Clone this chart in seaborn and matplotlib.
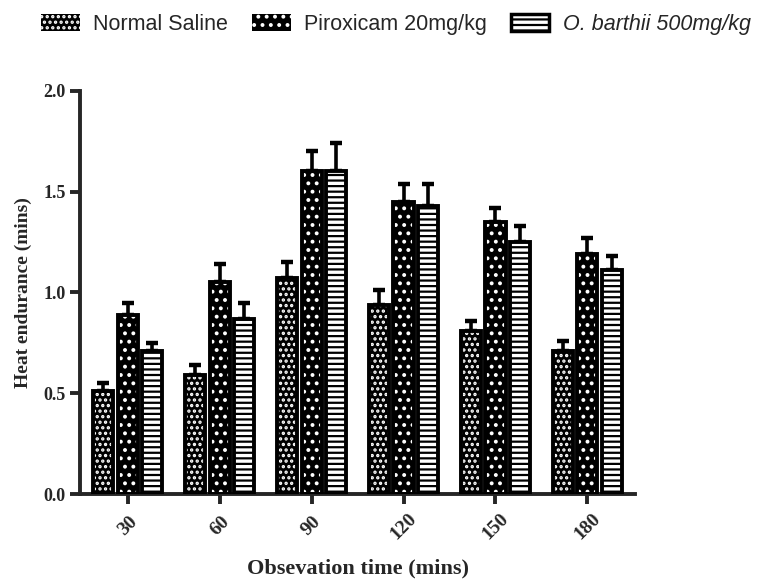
import seaborn as sns
import matplotlib.pyplot as plt
import pandas as pd
from matplotlib.patches import Rectangle, Patch

# Dados (média e erro padrão)
tempos = ["30", "60", "90", "120", "150", "180"]
grupos = ["Normal Saline", "Piroxicam 20mg/kg", "O. barthii 500mg/kg"]
salina = [0.51, 0.59, 1.07, 0.94, 0.81, 0.71]
salina_ep = [0.04, 0.05, 0.08, 0.07, 0.05, 0.05]
piroxicam = [0.89, 1.05, 1.60, 1.45, 1.35, 1.19]
piroxicam_ep = [0.06, 0.09, 0.10, 0.09, 0.07, 0.08]
barthii = [0.71, 0.87, 1.60, 1.43, 1.25, 1.11]
barthii_ep = [0.04, 0.08, 0.14, 0.11, 0.08, 0.07]

df = pd.DataFrame({
    "tempo": tempos * 3,
    "grupo": [g for g in grupos for _ in tempos],
    "valor": salina + piroxicam + barthii,
})
erros = [salina_ep, piroxicam_ep, barthii_ep]

sns.set_style("ticks")
plt.rcParams["hatch.linewidth"] = 1.6
serif = ["Liberation Serif", "DejaVu Serif"]

fig = plt.figure(figsize=(7.69, 5.82), dpi=100)
ax = fig.add_axes([0.104, 0.151, 0.722, 0.693])

sns.barplot(data=df, x="tempo", y="valor", hue="grupo", order=tempos,
            hue_order=grupos, errorbar=None, width=0.8, legend=False, ax=ax)

estilos = [("black", "white", "..."), ("black", "white", ".."), ("white", "black", "---")]
lw = 2.8
for cont, (fc, hc, hatch), ep in zip(ax.containers, estilos, erros):
    xs, hs = [], []
    for p in cont.patches:
        # estreita um pouco cada barra para deixar um espaço entre elas
        cx = p.get_x() + p.get_width() / 2
        w = p.get_width() * 0.82
        p.set_x(cx - w / 2)
        p.set_width(w)
        p.set_facecolor(fc)
        p.set_edgecolor(hc)
        p.set_hatch(hatch)
        p.set_linewidth(0)
        p.set_zorder(2)
        ax.add_patch(Rectangle(p.get_xy(), w, p.get_height(),
                               fill=False, edgecolor="black", linewidth=lw, zorder=3))
        xs.append(cx)
        hs.append(p.get_height())
    ax.errorbar(xs, hs, yerr=[[0] * len(ep), ep], fmt="none", ecolor="black",
                elinewidth=2.6, capsize=4, capthick=3.2, zorder=1)

ax.set_xlim(-0.52, 5.52)
ax.set_ylim(0, 2.0)
ax.set_yticks([0.0, 0.5, 1.0, 1.5, 2.0])
ax.set_yticklabels(["0.0", "0.5", "1.0", "1.5", "2.0"])
sns.despine(ax=ax)
for s in ["left", "bottom"]:
    ax.spines[s].set_linewidth(2.8)
ax.tick_params(axis="both", width=2.8, length=7, direction="out")
ax.tick_params(axis="x", pad=16)
for lab in ax.get_yticklabels():
    lab.set_fontfamily(serif)
    lab.set_fontweight("bold")
    lab.set_fontsize(13)
for lab in ax.get_xticklabels():
    lab.set_fontfamily(serif)
    lab.set_fontweight("bold")
    lab.set_fontsize(14)
    lab.set_rotation(45)
    lab.set_ha("center")
    lab.set_va("center")
ax.set_xlabel("Obsevation time (mins)", fontfamily=serif, fontweight="bold", fontsize=16)
ax.set_ylabel("Heat endurance (mins)", fontfamily=serif, fontweight="bold", fontsize=14, labelpad=8)
ax.xaxis.set_label_coords(0.5, -0.16)

# Legenda no topo
handles = [
    Patch(facecolor="black", edgecolor="white", hatch="...", linewidth=0),
    Patch(facecolor="black", edgecolor="white", hatch="..", linewidth=0),
    Patch(facecolor="white", edgecolor="black", hatch="---", linewidth=2.5),
]
leg = fig.legend(handles, grupos, loc="upper center", bbox_to_anchor=(0.515, 1.01), ncol=3,
                 frameon=False, prop={"family": ["Liberation Sans", "DejaVu Sans"], "size": 15.5},
                 handlelength=1.8, handleheight=0.9, columnspacing=1.1, handletextpad=0.63)
leg.get_texts()[2].set_fontstyle("italic")

plt.savefig("out.png", dpi=100)
